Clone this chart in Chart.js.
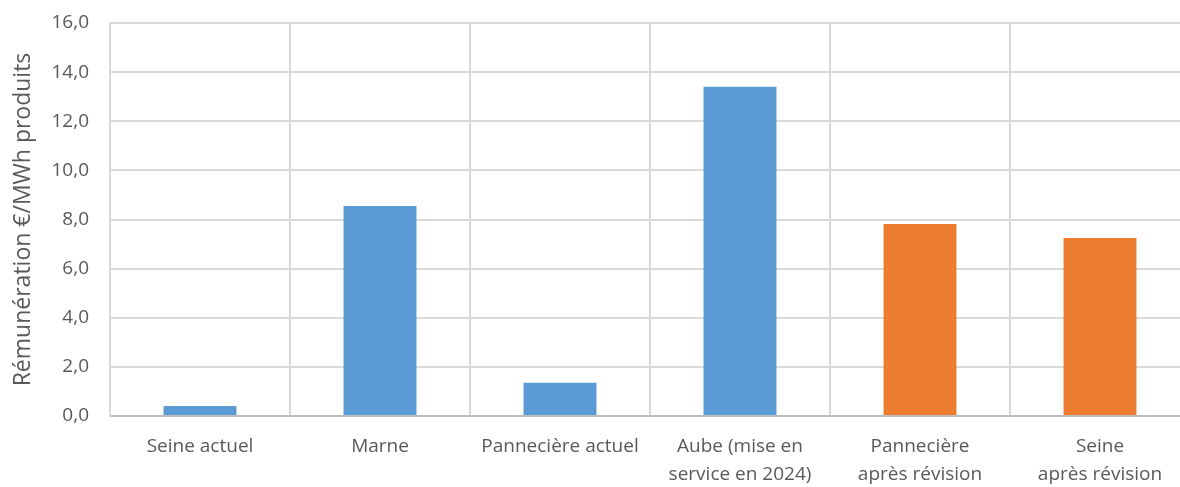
<!DOCTYPE html>
<html>
<head>
<meta charset="utf-8">
<script src="https://cdn.jsdelivr.net/npm/chart.js@4/dist/chart.umd.min.js"></script>
<style>
  html, body { margin: 0; padding: 0; background: #fff; overflow: hidden; }
  #wrap { width: 1180px; height: 487px; overflow: hidden; position: relative; }
  #box { width: 1200px; height: 487px; position: absolute; left: 0; top: 0; }
</style>
</head>
<body>
<div id="wrap"><div id="box"><canvas id="c"></canvas></div></div>
<script>
const categories = [
  "Seine actuel",
  "Marne",
  "Pannecière actuel",
  ["Aube (mise en", "service en 2024)"],
  ["Pannecière", "après révision"],
  ["Seine", "après révision"]
];
const remuneration = [0.41, 8.55, 1.35, 13.4, 7.82, 7.25];
const isRevision = [false, false, false, false, true, true];
const yTicks = [0, 2, 4, 6, 8, 10, 12, 14, 16];
const yTitle = "Rémunération €/MWh produits";

const BLUE = "#5B9BD5", ORANGE = "#ED7D31";
const FONT = "'Open Sans', sans-serif";

new Chart(document.getElementById("c"), {
  type: "bar",
  data: {
    labels: categories,
    datasets: [{
      data: remuneration,
      backgroundColor: isRevision.map(r => r ? ORANGE : BLUE),
      borderWidth: 0,
      barPercentage: 0.405,
      categoryPercentage: 1
    }]
  },
  options: {
    responsive: true,
    maintainAspectRatio: false,
    animation: false,
    layout: { padding: { top: 23, right: 10, bottom: 0, left: 10 } },
    plugins: { legend: { display: false }, tooltip: { enabled: false } },
    scales: {
      x: {
        grid: { color: "#d9d9d9", lineWidth: 2, drawTicks: false, offset: true },
        border: { color: "#bfbfbf", width: 2 },
        ticks: {
          color: "#595959",
          font: { family: FONT, size: 19, lineHeight: 1.47 },
          padding: 17,
          maxRotation: 0,
          autoSkip: false
        },
        afterFit: s => { s.height = 71; }
      },
      y: {
        min: 0, max: 16,
        afterBuildTicks: s => { s.ticks = yTicks.map(v => ({ value: v })); },
        grid: { color: "#d9d9d9", lineWidth: 2, drawTicks: false },
        border: { color: "#d9d9d9", width: 2 },
        ticks: {
          color: "#595959",
          font: { family: FONT, size: 19 },
          padding: 21,
          callback: v => v.toFixed(1).replace(".", ",")
        },
        title: {
          display: true,
          text: yTitle,
          color: "#595959",
          font: { family: FONT, size: 23 },
          padding: 0
        },
        afterFit: s => { s.width = 100; s.paddingTop = 0; s.paddingBottom = 0; }
      }
    }
  }
});
</script>
</body>
</html>
